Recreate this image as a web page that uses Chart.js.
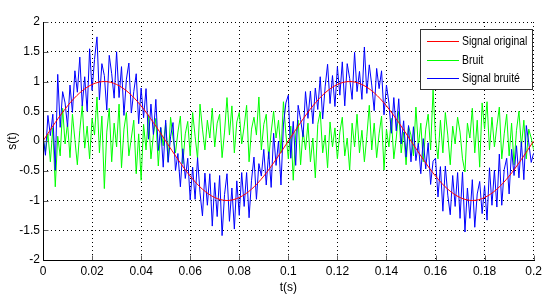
<!DOCTYPE html>
<html>
<head>
<meta charset="utf-8">
<script src="https://cdn.jsdelivr.net/npm/chart.js@4"></script>
<style>
html, body { margin: 0; padding: 0; background: #fff; }
canvas { display: block; }
</style>
</head>
<body>
<canvas id="plot" width="546" height="298"></canvas>
<script>
// series names and colours, same order as the legend
const seriesNames = ["Signal original", "Bruit", "Signal bruité"];
const seriesColors = ["#ff0000", "#00ff00", "#0000ff"];

// sample spacing (s)
const signalStep = 0.005;
const noiseStep = 0.001;

// red curve, one value every 5 ms
const signalOriginal = [
    0, 0.31, 0.59, 0.81, 0.95, 1, 0.95, 0.81, 0.59, 0.31,
    0, -0.31, -0.59, -0.81, -0.95, -1, -0.95, -0.81, -0.59, -0.31,
    0, 0.31, 0.59, 0.81, 0.95, 1, 0.95, 0.81, 0.59, 0.31,
    0, -0.31, -0.59, -0.81, -0.95, -1, -0.95, -0.81, -0.59, -0.31,
    0
];

// green noise, one value every 1 ms
const bruit = [
    0.05, -0.18, 0.12, -0.35, 0.22, -0.77, 0.08, -0.25, 0.55, -0.05,
    0.3, -0.28, 0.45, 0.02, -0.4, 0.18, 0.6, -0.12, 0.25, -0.3,
    0.38, 0.1, 0.74, -0.2, 0.42, -0.8, 0.15, 0.55, -0.35, 0.3,
    -0.1, 0.62, -0.45, 0.2, 0.48, -0.25, 0.05, 0.35, -0.55, 0.12,
    -0.66, 0.28, -0.15, 0.44, -0.3, 0.1, 0.38, -0.42, 0.22, -0.08,
    0.3, -0.35, 0.4, 0.05, -0.2, 0.15, 0.42, -0.38, 0.12, 0.33,
    -0.25, 0.48, 0.08, -0.3, 0.62, 0.2, -0.15, 0.35, 0.05, 0.55,
    -0.1, 0.3, 0.45, -0.28, 0.15, 0.73, 0.1, 0.59, -0.2, 0.32,
    0.48, -0.05, 0.25, 0.6, -0.35, 0.2, 0.4, 0.1, 0.74, -0.15,
    0.28, 0.45, -0.3, 0.15, 0.5, 0.05, 0.35, -0.2, 0.66, 0.12,
    -0.3, 0.25, -0.66, 0.1, 0.35, -0.4, 0.18, -0.15, 0.3, -0.35,
    0.05, -0.62, 0.28, 0.49, -0.2, 0.1, -0.45, 0.32, -0.1, 0.22,
    -0.3, 0.15, 0.4, -0.25, 0.05, -0.49, 0.3, -0.1, 0.45, -0.2,
    0.18, -0.35, 0.08, 0.6, -0.15, 0.3, -0.28, 0.12, 0.42, -0.49,
    0.2, -0.1, 0.38, -0.3, 0.05, 0.5, -0.2, 0.15, -0.4, 0.25,
    0.1, -0.25, 0.57, -0.1, 0.3, -0.35, 0.2, 0.45, -0.15, 0.86,
    0.05, -0.3, 0.35, -0.2, 0.48, 0.1, -0.4, 0.25, -0.05, 0.4,
    0.15, -0.3, -0.52, 0.3, 0.05, 0.55, -0.2, 0.35, -0.44, 0.64,
    0.2, 0.66, -0.15, 0.4, -0.1, 0.25, 0.57, -0.3, 0.12, 0.45,
    -0.25, 0.3, -0.4, 0.18, 0.5, -0.1, 0.35, -0.3, 0.2, 0.05,
    -0.15
];

// blue noisy signal, one value every 1 ms
const signalBruite = [
    0.10, -0.24, 0.43, 0.09, 0.45, -0.49, 1.12, 0.23, 0.83, 0.64,
    0.24, 0.94, 0.48, 1.18, 0.82, 1.41, 0.59, 1.08, 0.50, 1.55,
    0.85, 1.37, 1.75, 0.69, 1.30, 1.10, 0.52, 1.44, 1.13, 0.72,
    1.50, 0.73, 1.25, 0.43, 1.04, 1.31, 0.47, 0.83, 1.13, 0.29,
    0.89, 0.39, 0.88, 0.03, 0.62, 0.11, 0.70, -0.16, 0.23, -0.44,
    0.35, -0.36, 0.07, 0.31, -0.50, -0.21, -0.77, -0.13, -0.63, -0.29,
    -0.99, -0.44, -0.98, -0.28, -0.87, -1.26, -0.54, -1.08, -0.55, -1.43,
    -0.70, -1.27, -0.58, -1.59, -0.90, -0.55, -1.35, -0.79, -1.48, -0.67,
    -1.25, -0.53, -1.10, -0.53, -1.29, -0.66, -0.27, -0.98, -0.38, -0.59,
    -0.14, -0.74, -0.18, -0.78, 0.13, -0.41, 0.00, -0.74, 0.27, 0.64,
    0.77, -0.29, 0.33, -0.41, 0.60, 0.36, 0.07, 0.83, 0.38, 0.84,
    0.29, 0.89, 0.53, 1.08, 0.37, 0.91, 1.29, 0.63, 1.10, 0.58,
    1.25, 0.77, 1.33, 0.59, 1.30, 1.05, 0.70, 1.49, 0.83, 1.17,
    0.70, 1.58, 0.80, 1.28, 0.94, 0.51, 1.22, 0.88, 1.18, 0.44,
    0.94, 0.64, 0.13, 0.73, 0.17, 0.71, -0.05, 0.34, -0.27, 0.26,
    -0.35, 0.24, -0.33, -0.04, -0.55, 0.04, -0.47, -0.03, -0.73, -0.34,
    -0.29, -0.94, -0.43, -1.18, -0.42, -0.91, -1.24, -0.58, -1.10, -0.53,
    -1.30, -0.52, -1.53, -0.79, -1.30, -0.65, -1.45, -0.89, -0.68, -1.22,
    -0.75, -1.33, -0.45, -1.08, -0.49, -1.11, -0.22, -1.08, -0.48, -0.29,
    -0.89, -0.14, -0.58, -0.08, -0.62, -0.01, -0.65, 0.26, -0.03, -0.36,
    -0.20
];

const xTickLabels = ["0", "0.02", "0.04", "0.06", "0.08", "0.1", "0.12", "0.14", "0.16", "0.18", "0.2"];
const yTickLabels = ["-2", "-1.5", "-1", "-0.5", "0", "0.5", "1", "1.5", "2"];

const fontFamily = "'Liberation Sans', Arial, sans-serif";

function toPoints(values, step) {
    return values.map((v, i) => ({ x: i * step, y: v }));
}

// axes lines, inner ticks and the boxed legend, drawn the matlab way
const matlabLook = {
    id: 'matlabLook',
    afterDraw(chart) {
        const ctx = chart.ctx;
        const a = chart.chartArea;
        const xs = chart.scales.x;
        const ys = chart.scales.y;
        const left = Math.round(a.left) + 0.5;
        const bottom = Math.round(a.bottom) + 0.5;

        ctx.save();
        ctx.lineWidth = 1;
        ctx.strokeStyle = '#606060';
        ctx.beginPath();
        xs.ticks.forEach(t => {
            const px = Math.round(xs.getPixelForValue(t.value)) + 0.5;
            ctx.moveTo(px, bottom);
            ctx.lineTo(px, bottom - 5);
        });
        ys.ticks.forEach(t => {
            const py = Math.round(ys.getPixelForValue(t.value)) + 0.5;
            ctx.moveTo(left, py);
            ctx.lineTo(left + 5, py);
        });
        ctx.stroke();

        ctx.strokeStyle = '#000';
        ctx.beginPath();
        ctx.moveTo(left, Math.round(a.top));
        ctx.lineTo(left, bottom);
        ctx.lineTo(Math.round(a.right) + 1, bottom);
        ctx.stroke();

        // legend box
        const bx = 420.5, by = 29.5, bw = 112, bh = 60;
        ctx.fillStyle = '#fff';
        ctx.fillRect(bx, by, bw, bh);
        ctx.strokeStyle = '#333';
        ctx.strokeRect(bx, by, bw, bh);
        ctx.font = '13px ' + fontFamily;
        ctx.textBaseline = 'middle';
        ctx.textAlign = 'left';
        const rows = [41.5, 60.5, 78.5];
        seriesNames.forEach((name, i) => {
            ctx.strokeStyle = seriesColors[i];
            ctx.beginPath();
            ctx.moveTo(427, rows[i]);
            ctx.lineTo(459, rows[i]);
            ctx.stroke();
            ctx.fillStyle = '#000';
            // matlab text is narrow, squeeze it to fit the box
            ctx.save();
            ctx.translate(462, rows[i]);
            ctx.scale(0.8, 1);
            ctx.fillText(name, 0, 0);
            ctx.restore();
        });
        ctx.restore();
    }
};

new Chart(document.getElementById('plot'), {
    type: 'line',
    data: {
        datasets: [
            {
                label: seriesNames[0],
                data: toPoints(signalOriginal, signalStep),
                borderColor: seriesColors[0],
                borderWidth: 1,
                pointRadius: 0,
                cubicInterpolationMode: 'monotone'
            },
            {
                label: seriesNames[2],
                data: toPoints(signalBruite, noiseStep),
                borderColor: seriesColors[2],
                borderWidth: 1,
                pointRadius: 0
            },
            {
                label: seriesNames[1],
                data: toPoints(bruit, noiseStep),
                borderColor: seriesColors[1],
                borderWidth: 1,
                pointRadius: 0
            }
        ]
    },
    options: {
        responsive: false,
        animation: false,
        layout: { padding: { top: 22, right: 10, left: 0, bottom: 0 } },
        plugins: {
            legend: { display: false },
            tooltip: { enabled: false }
        },
        scales: {
            x: {
                type: 'linear',
                min: 0,
                max: 0.2,
                afterFit: s => { s.height = 38; },
                ticks: {
                    stepSize: 0.02,
                    padding: 4,
                    color: '#000',
                    maxRotation: 0,
                    font: { family: fontFamily, size: 12 },
                    callback: (v, i) => xTickLabels[i]
                },
                grid: { color: '#000', drawTicks: false },
                border: { display: false, dash: [1, 3] },
                title: {
                    display: true,
                    text: 't(s)',
                    color: '#000',
                    padding: { top: 0, bottom: 3 },
                    font: { family: fontFamily, size: 12 }
                }
            },
            y: {
                min: -2,
                max: 2,
                afterFit: s => { s.width = 43; },
                ticks: {
                    stepSize: 0.5,
                    padding: 3,
                    color: '#000',
                    font: { family: fontFamily, size: 12 },
                    callback: (v, i) => yTickLabels[i]
                },
                grid: { color: '#000', drawTicks: false },
                border: { display: false, dash: [1, 3] },
                title: {
                    display: true,
                    text: 's(t)',
                    color: '#000',
                    padding: { top: 5, bottom: 0 },
                    font: { family: fontFamily, size: 12 }
                }
            }
        }
    },
    plugins: [matlabLook]
});
</script>
</body>
</html>
